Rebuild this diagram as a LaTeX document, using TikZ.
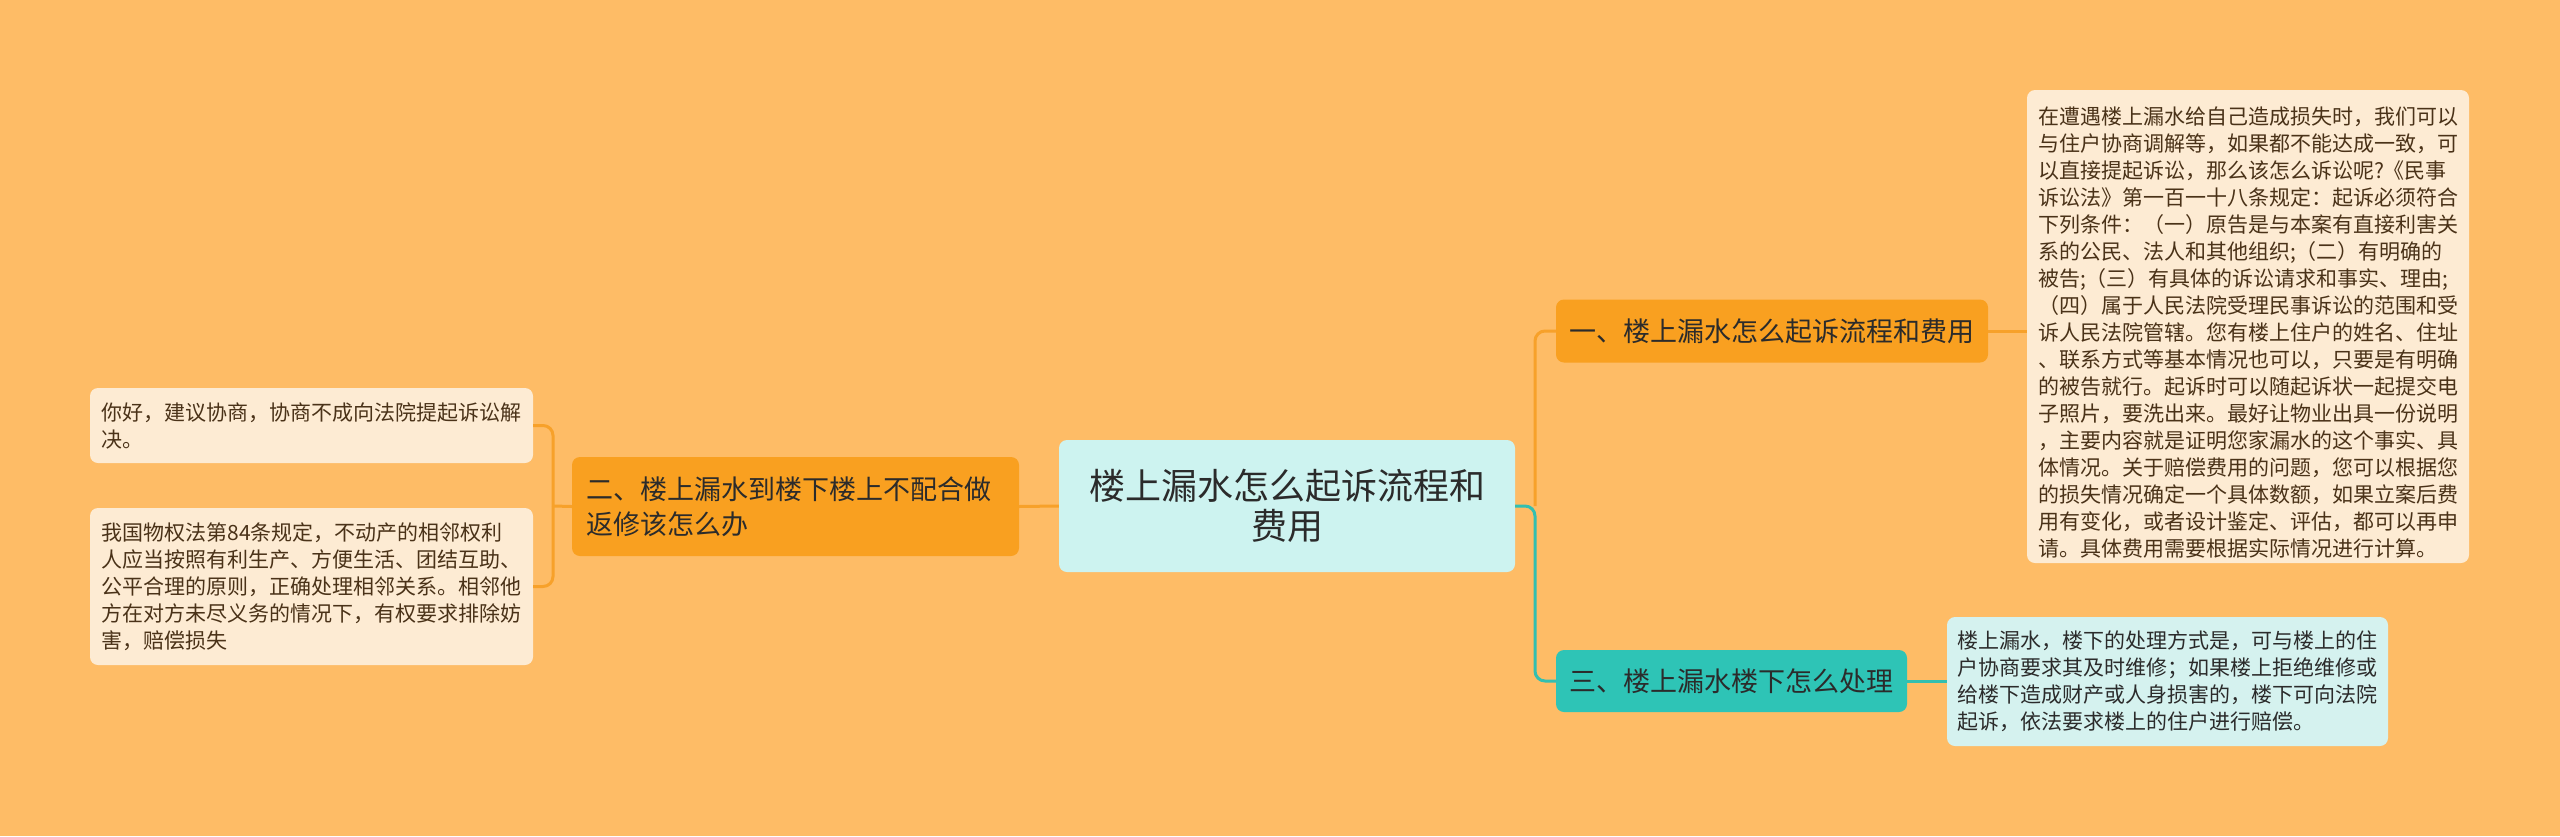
\documentclass[tikz,border=0pt]{standalone}
\usepackage{fontspec}
\setmainfont{Noto Sans CJK SC}
\definecolor{bgc}{HTML}{FEBC66}
\definecolor{orangenode}{HTML}{F9A020}
\definecolor{orangeline}{HTML}{F7A12A}
\definecolor{tealnode}{HTML}{2EC4B6}
\definecolor{tealline}{HTML}{33BFB0}
\definecolor{centerfill}{HTML}{CDF3F0}
\definecolor{creamfill}{HTML}{FDEBD3}
\definecolor{lightteal}{HTML}{D5F2EF}
\definecolor{browntext}{HTML}{4A3218}
\definecolor{darktext}{HTML}{2B2B2B}
\begin{document}
\begin{tikzpicture}[x=1pt,y=-1pt,
  boxbase/.style={rectangle, rounded corners=8pt, inner ysep=0pt, anchor=center},
  centerbox/.style={boxbase, fill=centerfill, text=darktext, align=center, font=\fontsize{36}{40}\selectfont, inner xsep=0pt},
  topicbox/.style={boxbase, fill=orangenode, text=darktext, align=left, font=\fontsize{27}{35}\selectfont},
  tealbox/.style={boxbase, fill=tealnode, text=darktext, align=left, font=\fontsize{27}{35}\selectfont},
  leafbox/.style={boxbase, fill=creamfill, text=browntext, align=left, font=\fontsize{21}{27}\selectfont},
  leaftbox/.style={boxbase, fill=lightteal, text=darktext, align=left, font=\fontsize{21}{27}\selectfont},
  oline/.style={draw=orangeline, line width=3pt, rounded corners=10pt},
  tline/.style={draw=tealline, line width=3pt, rounded corners=10pt}
]
\fill[bgc] (0,0) rectangle (2560,836);
\useasboundingbox (0,0) rectangle (2560,836);

% center
\node[centerbox, minimum width=456pt, minimum height=132pt, text width=440pt] (c) at (1287,506)
  {楼上漏水怎么起诉流程和\\费用};

% topic 2 (left)
\node[topicbox, minimum width=447pt, minimum height=99pt, inner xsep=14pt, text width=419pt] (n2) at (795.5,506.5)
  {二、楼上漏水到楼下楼上不配合做\\返修该怎么办};

% topic 1 (right top)
\node[topicbox, minimum width=432pt, minimum height=63pt, inner xsep=13pt, text width=406pt] (n1) at (1772,331)
  {一、楼上漏水怎么起诉流程和费用};

% topic 3 (right bottom)
\node[tealbox, minimum width=351pt, minimum height=62pt, inner xsep=13pt, text width=325pt] (n3) at (1731.5,681)
  {三、楼上漏水楼下怎么处理};

% leaf right 1
\node[leafbox, minimum width=442pt, minimum height=473pt, inner xsep=11pt, text width=420pt] (l1) at (2248,326.5)
  {\rule{0pt}{30pt}在遭遇楼上漏水给自己造成损失时，我们可以\\
   与住户协商调解等，如果都不能达成一致，可\\
   以直接提起诉讼，那么该怎么诉讼呢?《民事\\
   诉讼法》第一百一十八条规定：起诉必须符合\\
   下列条件：（一）原告是与本案有直接利害关\\
   系的公民、法人和其他组织;（二）有明确的\\
   被告;（三）有具体的诉讼请求和事实、理由;\\
   （四）属于人民法院受理民事诉讼的范围和受\\
   诉人民法院管辖。您有楼上住户的姓名、住址\\
   、联系方式等基本情况也可以，只要是有明确\\
   的被告就行。起诉时可以随起诉状一起提交电\\
   子照片，要洗出来。最好让物业出具一份说明\\
   ，主要内容就是证明您家漏水的这个事实、具\\
   体情况。关于赔偿费用的问题，您可以根据您\\
   的损失情况确定一个具体数额，如果立案后费\\
   用有变化，或者设计鉴定、评估，都可以再申\\
   请。具体费用需要根据实际情况进行计算。};

% leaf right 3
\node[leaftbox, minimum width=441pt, minimum height=129pt, inner xsep=10pt, text width=421pt] (l3) at (2167.5,681.5)
  {楼上漏水，楼下的处理方式是，可与楼上的住\\
   户协商要求其及时维修；如果楼上拒绝维修或\\
   给楼下造成财产或人身损害的，楼下可向法院\\
   起诉，依法要求楼上的住户进行赔偿。};

% leaf left A
\node[leafbox, minimum width=443pt, minimum height=75pt, inner xsep=11.5pt, text width=420pt] (la) at (311.5,425.5)
  {你好，建议协商，协商不成向法院提起诉讼解\\决。};

% leaf left B
\node[leafbox, minimum width=443pt, minimum height=157pt, inner xsep=11.5pt, text width=420pt] (lb) at (311.5,586.5)
  {我国物权法第84条规定，不动产的相邻权利\\
   人应当按照有利生产、方便生活、团结互助、\\
   公平合理的原则，正确处理相邻关系。相邻他\\
   方在对方未尽义务的情况下，有权要求排除妨\\
   害，赔偿损失};

% connectors
\coordinate (jr) at (1535,506);
\coordinate (jl) at (553,506);
\draw[oline] (jr) |- (n1.west);
\draw[tline] (c.east) -- (jr) |- (n3.west);
\draw[oline] (n1.east) -- (n1.east -| l1.west);
\draw[tline] (n3.east) -- (n3.east -| l3.west);
\draw[oline] (n2.west) -- (jl);
\draw[oline] (jl) |- (la.east);
\draw[oline] (jl) |- (lb.east);
\draw[oline] (c.west) -- (n2.east);
\end{tikzpicture}
\end{document}
